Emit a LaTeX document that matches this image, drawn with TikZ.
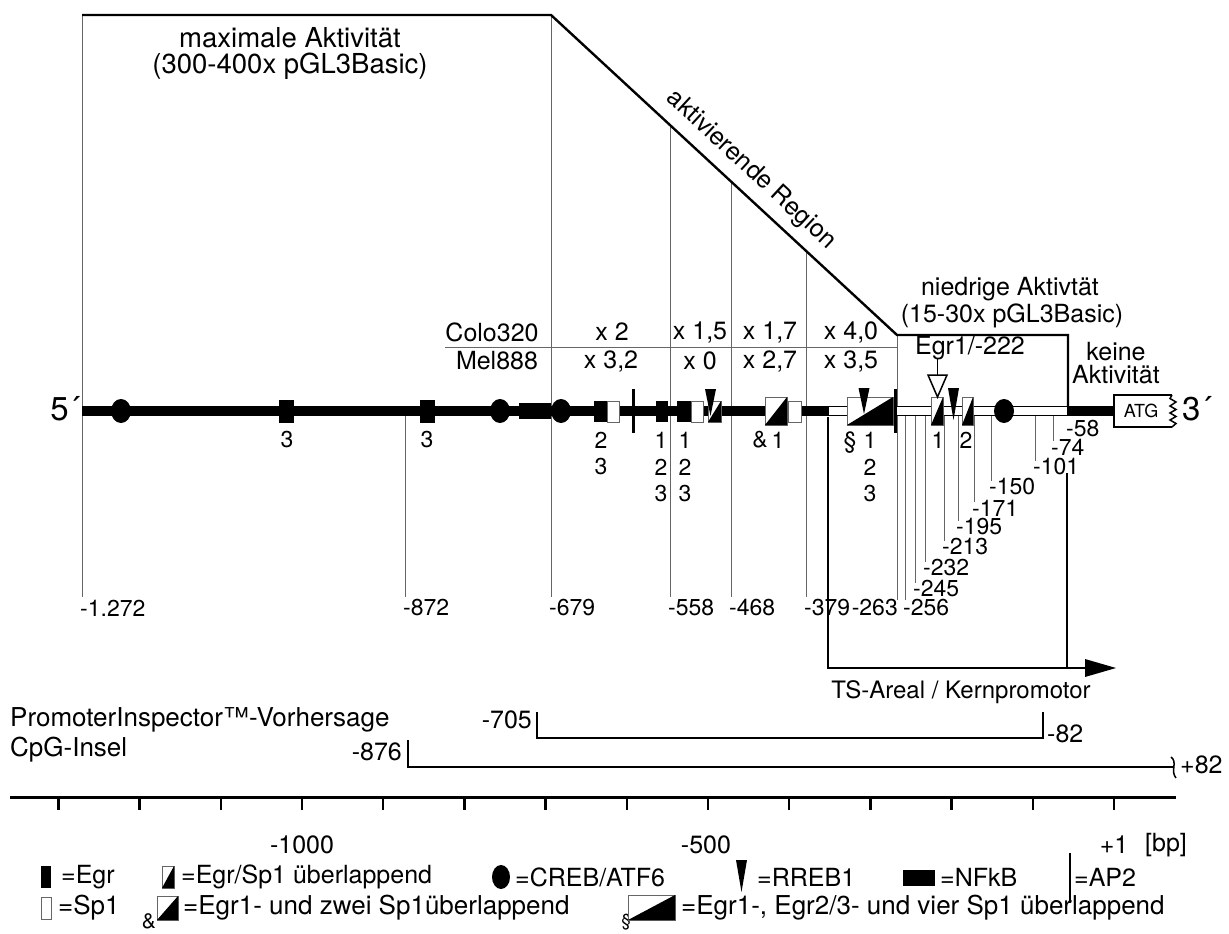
\documentclass[tikz,border=0pt]{standalone}
\usepackage{fontspec}
\setmainfont{TeX Gyre Heros}
\newcommand\ovbox[4]{%
  \draw[fill=white,draw=black!60,line width=1pt] (#1,#2) rectangle (#3,#4);
  \fill[black] (#1,#4) -- (#3,#2) -- (#3,#4) -- cycle;}
\newcommand\egrbox[4]{\fill[black] (#1,#2) rectangle (#3,#4);}
\newcommand\spbox[4]{\draw[fill=white,draw=black!60,line width=1pt] (#1,#2) rectangle (#3,#4);}
\newcommand\rreb[3]{\fill[black] (#1-5.5,#2) -- (#1+5.5,#2) -- (#1,#3) -- cycle;}
\begin{document}
\begin{tikzpicture}[x=1pt,y=-1pt]
\tikzset{
  txt/.style={inner sep=0pt,font=\fontsize{25}{29}\selectfont},
  leg/.style={inner sep=0pt,font=\fontsize{26}{30}\selectfont},
  big/.style={inner sep=0pt,font=\fontsize{27.5}{31}\selectfont},
  num/.style={inner sep=0pt,font=\fontsize{23}{26}\selectfont},
  small/.style={inner sep=0pt,font=\fontsize{23}{26}\selectfont},
  markline/.style={draw=black!60,line width=1pt},
  boxline/.style={line width=2.4pt,line join=miter},
}
\useasboundingbox (0,0) rectangle (1229,934);
% ---------- marker lines
\foreach \x/\a/\b in {82/15/597,405/411/597,551/15/597,670/125/597,731/181.5/597,806/251/597,
  897/335/600,905/416/600,915/416/583,925/416/562,944/416/541,958/416/521,974/416/502,
  991/416/481,1035/416/461,1053/416/441}
  \draw[markline] (\x,\a) -- (\x,\b);
\draw[markline] (445,347) -- (897,347);
% ---------- top activity outline
\coordinate (tl) at (82,15);
\coordinate (d1) at (551,15);
\coordinate (d2) at (897,335);
\coordinate (br) at (1068,335);
\coordinate (brb) at (1068,411);
\draw[boxline] (tl) -- (d1) -- (d2) node[pos=0.535,sloped,above=9pt,txt] {aktivierende Region} -- (br) -- (brb);
\node[big] at (290,38) {maximale Aktivität};
\node[big] at (290,66) {(300-400x pGL3Basic)};
\node[txt] at (1010,289) {niedrige Aktivtät};
\node[txt] at (1012,316) {(15-30x pGL3Basic)};
\node[txt] at (1116,352) {keine};
\node[txt] at (1116,375) {Aktivität};
% table
\node[txt] at (492,332) {Colo320};
\node[txt] at (497,361) {Mel888};
\node[txt] at (612,332) {x 2};
\node[txt] at (611,361) {x 3,2};
\node[txt] at (700,332) {x 1,5};
\node[txt] at (700,361) {x 0};
\node[txt] at (770,332) {x 1,7};
\node[txt] at (770,361) {x 2,7};
\node[txt] at (851,332) {x 4,0};
\node[txt] at (851,361) {x 3,5};
% ---------- main DNA line
\draw[line width=10pt] (82,411) -- (828,411);
\draw[fill=white,draw=black,line width=1.2pt] (828,406.5) rectangle (1068,415.5);
\draw[line width=10pt] (1067,411) -- (1114,411);
% ATG box
\draw[line width=2.2pt,line join=miter] (1172,395) -- (1114,395) -- (1114,427) -- (1172,427);
\draw[line width=1.5pt] (1172,427) -- (1176,423.5) -- (1170,420) -- (1176,416.5) -- (1170,413) -- (1176,409.5) -- (1170,406) -- (1176,402) -- (1170,398.5) -- (1172,395);
\node[inner sep=0pt,font=\fontsize{18}{20}\selectfont] at (1141,411) {ATG};
\node[inner sep=0pt,font=\fontsize{33}{36}\selectfont,anchor=west] at (1182,409) {3´};
\node[inner sep=0pt,font=\fontsize{33}{36}\selectfont,anchor=east] at (80,409) {5´};
% circles (CREB/ATF6)
\foreach \x in {121,500,561,1004} \fill[black] (\x,411) ellipse [x radius=10,y radius=12];
% NFkB
\fill[black] (519,403) rectangle (551,419);
% Egr boxes
\egrbox{279}{400}{294}{423}
\egrbox{420}{400}{435}{423}
\egrbox{594}{401}{607}{422}
\egrbox{656}{401}{668}{422}
\egrbox{677}{401}{691}{422}
% Sp1 boxes
\spbox{607}{401}{619}{422}
\spbox{691}{401}{703}{422}
\spbox{788}{401}{801}{422}
% overlapping boxes
\ovbox{708}{401}{721}{422}
\ovbox{765}{397}{787}{425}
\ovbox{847}{397}{893}{425}
\ovbox{931}{397}{943}{425}
\ovbox{962}{397}{973}{425}
% AP2
\draw[line width=3pt] (633,389) -- (633,433);
\draw[line width=3pt] (895,389) -- (895,433);
% RREB1
\rreb{710.5}{389}{416}
\rreb{864}{388}{414}
\rreb{953.5}{388}{420}
% Egr1/-222 arrow
\node[txt] (egr) at (970,348) {Egr1/-222};
\draw[line width=1.5pt] (937.5,359) -- (937.5,375);
\draw[fill=white,line width=1.5pt,line join=miter] (928,375) -- (947,375) -- (937.5,397) -- cycle;
% labels under symbols
\node[small] at (287,440) {3};
\node[small] at (427,440) {3};
\node[small] at (601,440) {2};
\node[small] at (601,467) {3};
\foreach \x in {661,685,870}{
  \node[small] at (\x,440) {1};
  \node[small] at (\x,467) {2};
  \node[small] at (\x,494) {3};}
\node[small] at (760,440) {\&};
\node[small] at (778,440) {1};
\node[small] at (850,443) {§};
\node[small] at (938,440) {1};
\node[small] at (966,440) {2};
% position labels
\foreach \x/\t in {80/-1.272,403/-872,549/-679,668/-558,729/-468,804/-379,903/-256}
  \node[num,anchor=west] at (\x,608) {\t};
\node[num,anchor=east] at (898,608) {-263};
\foreach \x/\y/\t in {913/589/-245,923/568/-232,942/547/-213,956/527/-195,972/508/-171,989/487/-150,1033/467/-101,1051/447/-74,1066/429/-58}
  \node[num,anchor=west] at (\x,\y) {\t};
% ---------- TS-Areal
\coordinate (tsa) at (828,417);
\coordinate (tsb) at (828,668);
\coordinate (tsc) at (1087,668);
\draw[line width=2.4pt,line join=miter] (tsa) -- (tsb) -- (tsc);
\fill[black] (1085,659) -- (1116,668) -- (1085,677) -- cycle;
\draw[line width=2.4pt] (1067,473) -- (1067,668);
\node[inner sep=0pt,font=\fontsize{24}{28}\selectfont] at (961,692) {TS-Areal / Kernpromotor};
% ---------- PromoterInspector & CpG
\node[leg,anchor=west] at (10,720) {PromoterInspector™-Vorhersage};
\node[leg,anchor=west] at (10,750) {CpG-Insel};
\node[txt,anchor=east] at (532,720) {-705};
\draw[line width=1.8pt,line join=miter] (537,712) -- (537,738) -- (1043,738) -- (1043,712);
\node[txt,anchor=west] at (1047,734) {-82};
\node[txt,anchor=east] at (402,752) {-876};
\draw[line width=1.8pt,line join=miter] (408,740) -- (408,767) -- (1174,767);
\draw[line width=1.5pt] (1171,757) .. controls (1178,762) and (1170,771) .. (1176,778);
\node[txt,anchor=west] at (1180,765) {+82};
% ---------- scale axis
\draw[line width=3pt] (10,797) -- (1176,797);
\foreach \k in {0,...,13} \draw[line width=2.5pt] (1114-81.2*\k,797) -- (1114-81.2*\k,810);
\node[txt] at (302,845) {-1000};
\node[txt] at (706,845) {-500};
\node[txt] at (1114,845) {+1};
\node[txt,anchor=west] at (1145,845) {[bp]};
% ---------- legend
\egrbox{41}{866}{51}{888}
\node[txt,anchor=west] at (61,877) {=Egr};
\ovbox{162}{866}{174}{888}
\node[txt,anchor=west] at (181,877) {=Egr/Sp1 überlappend};
\fill[black] (501,877) ellipse [x radius=9,y radius=12];
\node[txt,anchor=west] at (515,877) {=CREB/ATF6};
\rreb{741.5}{860}{892}
\node[txt,anchor=west] at (757,877) {=RREB1};
\fill[black] (903,870) rectangle (935,886);
\node[txt,anchor=west] at (940,877) {=NFkB};
\draw[line width=2.5pt] (1070,853) -- (1070,903);
\node[txt,anchor=west] at (1074,877) {=AP2};
\spbox{41}{897}{51}{919}
\node[leg,anchor=west] at (58,908) {=Sp1};
\node[inner sep=0pt,font=\fontsize{21}{24}\selectfont] at (149,921) {\&};
\ovbox{157}{896}{178}{920}
\node[leg,anchor=west] at (183,908) {=Egr1- und zwei Sp1überlappend};
\node[inner sep=0pt,font=\fontsize{17}{20}\selectfont] at (626,922) {§};
\ovbox{628}{895}{675}{920}
\node[leg,anchor=west] at (681,908) {=Egr1-, Egr2/3- und vier Sp1 überlappend};
\end{tikzpicture}
\end{document}
